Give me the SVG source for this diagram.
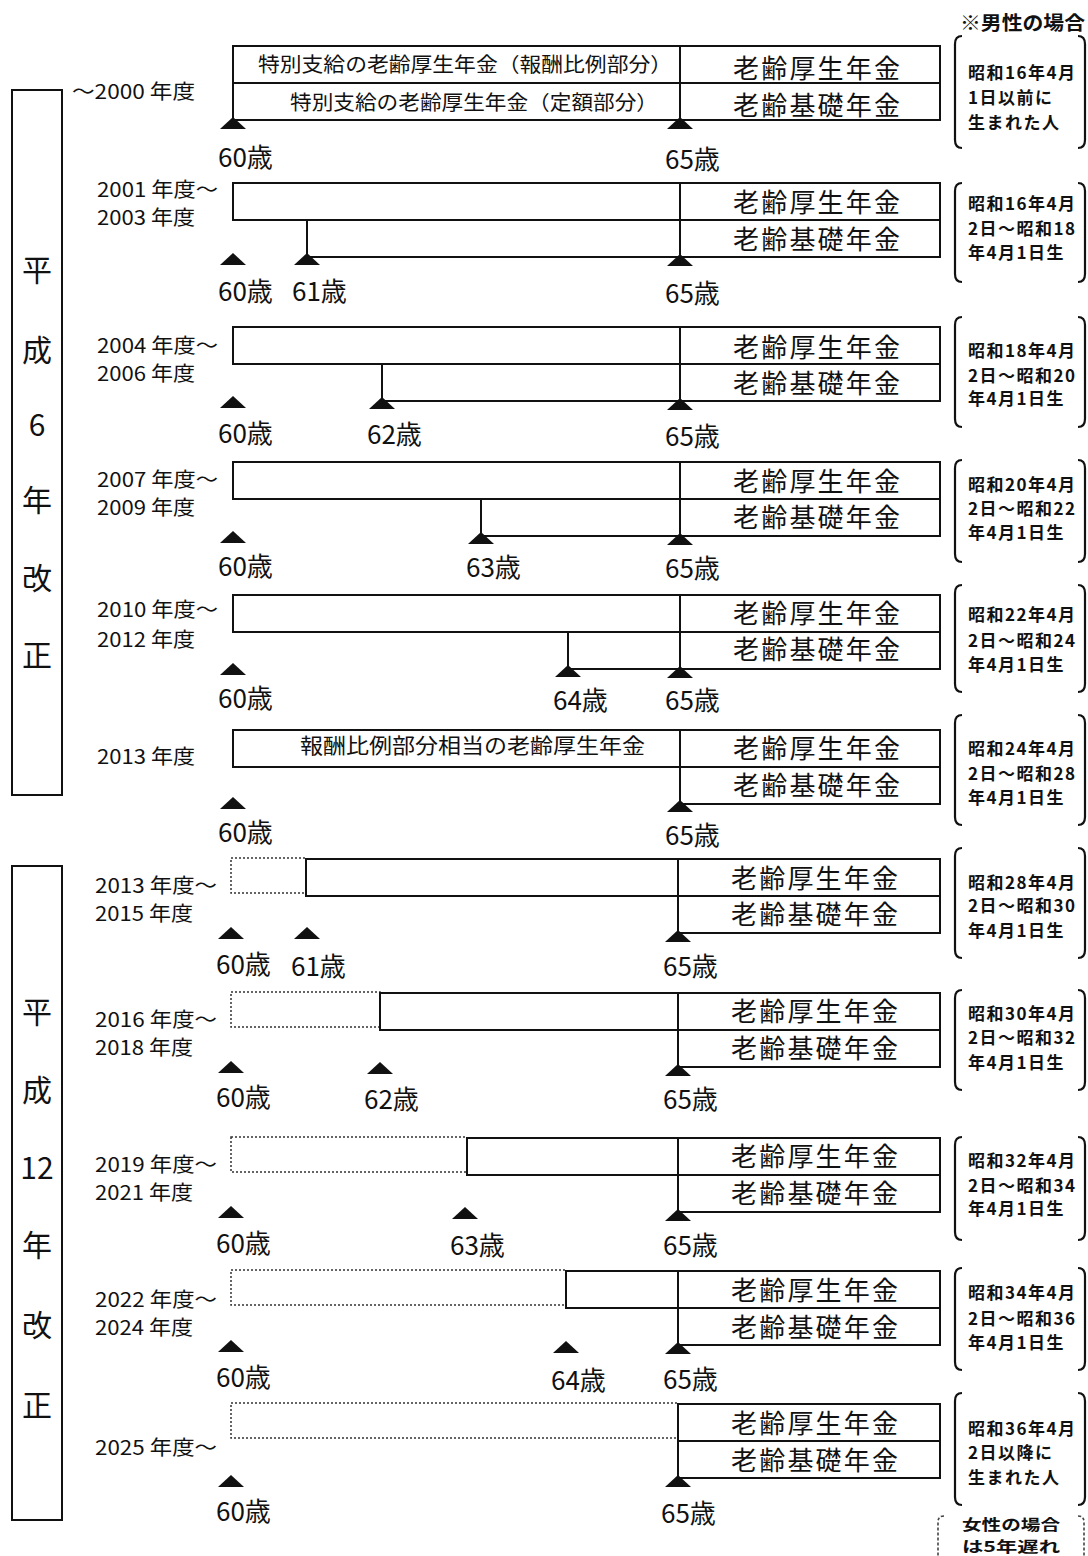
<svg xmlns="http://www.w3.org/2000/svg" xmlns:xlink="http://www.w3.org/1999/xlink" width="1088" height="1556" viewBox="0 0 1088 1556">
<style>
text{font-family:"Noto Sans CJK JP","Noto Sans",sans-serif;fill:#111}
.box{fill:none;stroke:#111;stroke-width:2}
.dot{fill:none;stroke:#333;stroke-width:1.5;stroke-dasharray:2 2}
.ln{fill:none;stroke:#111;stroke-width:2}
.br{fill:none;stroke:#111;stroke-width:2.2}
.brd{fill:none;stroke:#444;stroke-width:1.6;stroke-dasharray:3 2}
.pen{font-size:26px}
.age{font-size:26px}
.yr{font-size:20px}
.nt{font-size:17px;font-weight:bold;letter-spacing:1.5px}
.nt2{font-size:15px;font-weight:bold}
.era{font-size:30px;text-anchor:middle}
</style>
<defs>
<path id="tri" d="M0,0 L13,12 L-13,12 Z" fill="#111"/>
</defs>
<rect width="1088" height="1556" fill="#fff"/>

<g id="era1">
<rect class="box" x="12" y="90" width="50" height="705"/>
<text class="era" x="37" y="281">平</text>
<text class="era" x="37" y="361">成</text>
<text class="era" x="37" y="436">6</text>
<text class="era" x="37" y="511">年</text>
<text class="era" x="37" y="589">改</text>
<text class="era" x="37" y="666">正</text>
</g>
<g id="era2">
<rect class="box" x="12" y="866" width="50" height="654"/>
<text class="era" x="37" y="1023">平</text>
<text class="era" x="37" y="1101">成</text>
<text class="era" x="37" y="1179">12</text>
<text class="era" x="37" y="1256">年</text>
<text class="era" x="37" y="1336">改</text>
<text class="era" x="37" y="1416">正</text>
</g>

<text x="960" y="30" style="font-size:19px;font-weight:bold" textLength="125" lengthAdjust="spacingAndGlyphs">※男性の場合</text>

<g id="connectors">
<rect class="box" x="233" y="46" width="707" height="74"/>
<line class="ln" x1="233" y1="83" x2="940" y2="83"/>
<line class="ln" x1="680" y1="46" x2="680" y2="120"/>
<rect class="box" x="233" y="183" width="707" height="37"/>
<line class="ln" x1="680" y1="183" x2="680" y2="257"/>
<path class="ln" d="M307,220 V257 H940 V220"/>
<rect class="box" x="233" y="327" width="707" height="37"/>
<line class="ln" x1="680" y1="327" x2="680" y2="401"/>
<path class="ln" d="M382,364 V401 H940 V364"/>
<rect class="box" x="233" y="462" width="707" height="37"/>
<line class="ln" x1="680" y1="462" x2="680" y2="536"/>
<path class="ln" d="M481,499 V536 H940 V499"/>
<rect class="box" x="233" y="595" width="707" height="37"/>
<line class="ln" x1="680" y1="595" x2="680" y2="669"/>
<path class="ln" d="M568,632 V669 H940 V632"/>
<rect class="box" x="233" y="730" width="707" height="37"/>
<line class="ln" x1="680" y1="730" x2="680" y2="804"/>
<path class="ln" d="M680,804 H940 V767"/>
<rect class="dot" x="231" y="858" width="75" height="35"/>
<rect class="box" x="306" y="859" width="634" height="37"/>
<line class="ln" x1="678" y1="859" x2="678" y2="933"/>
<path class="ln" d="M678,933 H940 V896"/>
<rect class="dot" x="231" y="992" width="149" height="35"/>
<rect class="box" x="380" y="993" width="560" height="37"/>
<line class="ln" x1="678" y1="993" x2="678" y2="1067"/>
<path class="ln" d="M678,1067 H940 V1030"/>
<rect class="dot" x="231" y="1137" width="236" height="35"/>
<rect class="box" x="467" y="1138" width="473" height="37"/>
<line class="ln" x1="678" y1="1138" x2="678" y2="1212"/>
<path class="ln" d="M678,1212 H940 V1175"/>
<rect class="dot" x="231" y="1270" width="335" height="35"/>
<rect class="box" x="566" y="1271" width="374" height="37"/>
<line class="ln" x1="678" y1="1271" x2="678" y2="1345"/>
<path class="ln" d="M678,1345 H940 V1308"/>
<rect class="dot" x="231" y="1403" width="447" height="35"/>
<rect class="box" x="678" y="1404" width="262" height="37"/>
<path class="ln" d="M678,1441 V1478 H940 V1441"/>
</g>

<g id="markers">
<use xlink:href="#tri" x="233" y="117"/><use xlink:href="#tri" x="680" y="117"/>
<use xlink:href="#tri" x="233" y="253"/><use xlink:href="#tri" x="307" y="253"/><use xlink:href="#tri" x="680" y="254"/>
<use xlink:href="#tri" x="233" y="396"/><use xlink:href="#tri" x="382" y="397"/><use xlink:href="#tri" x="680" y="398"/>
<use xlink:href="#tri" x="233" y="531"/><use xlink:href="#tri" x="481" y="532"/><use xlink:href="#tri" x="680" y="533"/>
<use xlink:href="#tri" x="233" y="663"/><use xlink:href="#tri" x="568" y="665"/><use xlink:href="#tri" x="680" y="666"/>
<use xlink:href="#tri" x="233" y="797"/><use xlink:href="#tri" x="680" y="800"/>
<use xlink:href="#tri" x="231" y="927"/><use xlink:href="#tri" x="307" y="927"/><use xlink:href="#tri" x="678" y="930"/>
<use xlink:href="#tri" x="231" y="1061"/><use xlink:href="#tri" x="380" y="1062"/><use xlink:href="#tri" x="678" y="1064"/>
<use xlink:href="#tri" x="231" y="1206"/><use xlink:href="#tri" x="465" y="1207"/><use xlink:href="#tri" x="678" y="1209"/>
<use xlink:href="#tri" x="231" y="1340"/><use xlink:href="#tri" x="566" y="1341"/><use xlink:href="#tri" x="678" y="1342"/>
<use xlink:href="#tri" x="231" y="1475"/><use xlink:href="#tri" x="678" y="1475"/>
</g>

<g id="row1">
<text x="258" y="72" style="font-size:20px" textLength="414" lengthAdjust="spacingAndGlyphs">特別支給の老齢厚生年金（報酬比例部分）</text>
<text x="290" y="110" style="font-size:20px" textLength="368" lengthAdjust="spacingAndGlyphs">特別支給の老齢厚生年金（定額部分）</text>
<text class="pen" x="733" y="78" textLength="167">老齢厚生年金</text>
<text class="pen" x="733" y="115" textLength="167">老齢基礎年金</text>
<text class="yr" x="72" y="99" textLength="123" lengthAdjust="spacingAndGlyphs">～2000 年度</text>
<text class="age" x="218" y="167">60歳</text>
<text class="age" x="665" y="169">65歳</text>
<path class="br" d="M962,36 Q955,36 955,44 V140 Q955,148 962,148"/>
<path class="br" d="M1078,36 Q1085,36 1085,44 V140 Q1085,148 1078,148"/>
<text class="nt" x="968" y="79">昭和16年4月</text>
<text class="nt" x="968" y="104">1日以前に</text>
<text class="nt" x="968" y="129">生まれた人</text>
</g>

<g id="row2">
<text class="pen" x="733" y="212" textLength="167">老齢厚生年金</text>
<text class="pen" x="733" y="249" textLength="167">老齢基礎年金</text>
<text class="yr" x="97" y="197" textLength="121" lengthAdjust="spacingAndGlyphs">2001 年度～</text>
<text class="yr" x="97" y="225" textLength="98" lengthAdjust="spacingAndGlyphs">2003 年度</text>
<text class="age" x="218" y="301">60歳</text>
<text class="age" x="292" y="301">61歳</text>
<text class="age" x="665" y="303">65歳</text>
<path class="br" d="M962,183 Q955,183 955,191 V274 Q955,282 962,282"/>
<path class="br" d="M1078,183 Q1085,183 1085,191 V274 Q1085,282 1078,282"/>
<text class="nt" x="968" y="210">昭和16年4月</text>
<text class="nt" x="968" y="235">2日～昭和18</text>
<text class="nt" x="968" y="259">年4月1日生</text>
</g>

<g id="row3">
<text class="pen" x="733" y="357" textLength="167">老齢厚生年金</text>
<text class="pen" x="733" y="393" textLength="167">老齢基礎年金</text>
<text class="yr" x="97" y="353" textLength="121" lengthAdjust="spacingAndGlyphs">2004 年度～</text>
<text class="yr" x="97" y="381" textLength="98" lengthAdjust="spacingAndGlyphs">2006 年度</text>
<text class="age" x="218" y="443">60歳</text>
<text class="age" x="367" y="444">62歳</text>
<text class="age" x="665" y="446">65歳</text>
<path class="br" d="M962,317 Q955,317 955,325 V419 Q955,427 962,427"/>
<path class="br" d="M1078,317 Q1085,317 1085,325 V419 Q1085,427 1078,427"/>
<text class="nt" x="968" y="357">昭和18年4月</text>
<text class="nt" x="968" y="382">2日～昭和20</text>
<text class="nt" x="968" y="405">年4月1日生</text>
</g>

<g id="row4">
<text class="pen" x="733" y="491" textLength="167">老齢厚生年金</text>
<text class="pen" x="733" y="527" textLength="167">老齢基礎年金</text>
<text class="yr" x="97" y="487" textLength="121" lengthAdjust="spacingAndGlyphs">2007 年度～</text>
<text class="yr" x="97" y="515" textLength="98" lengthAdjust="spacingAndGlyphs">2009 年度</text>
<text class="age" x="218" y="576">60歳</text>
<text class="age" x="466" y="577">63歳</text>
<text class="age" x="665" y="578">65歳</text>
<path class="br" d="M962,460 Q955,460 955,468 V554 Q955,562 962,562"/>
<path class="br" d="M1078,460 Q1085,460 1085,468 V554 Q1085,562 1078,562"/>
<text class="nt" x="968" y="491">昭和20年4月</text>
<text class="nt" x="968" y="515">2日～昭和22</text>
<text class="nt" x="968" y="539">年4月1日生</text>
</g>

<g id="row5">
<text class="pen" x="733" y="623" textLength="167">老齢厚生年金</text>
<text class="pen" x="733" y="659" textLength="167">老齢基礎年金</text>
<text class="yr" x="97" y="617" textLength="121" lengthAdjust="spacingAndGlyphs">2010 年度～</text>
<text class="yr" x="97" y="647" textLength="98" lengthAdjust="spacingAndGlyphs">2012 年度</text>
<text class="age" x="218" y="708">60歳</text>
<text class="age" x="553" y="710">64歳</text>
<text class="age" x="665" y="710">65歳</text>
<path class="br" d="M962,585 Q955,585 955,593 V684 Q955,692 962,692"/>
<path class="br" d="M1078,585 Q1085,585 1085,593 V684 Q1085,692 1078,692"/>
<text class="nt" x="968" y="621">昭和22年4月</text>
<text class="nt" x="968" y="647">2日～昭和24</text>
<text class="nt" x="968" y="671">年4月1日生</text>
</g>

<g id="row6">
<text x="300" y="753" style="font-size:21px" textLength="345" lengthAdjust="spacingAndGlyphs">報酬比例部分相当の老齢厚生年金</text>
<text class="pen" x="733" y="758" textLength="167">老齢厚生年金</text>
<text class="pen" x="733" y="795" textLength="167">老齢基礎年金</text>
<text class="yr" x="97" y="764" textLength="98" lengthAdjust="spacingAndGlyphs">2013 年度</text>
<text class="age" x="218" y="842">60歳</text>
<text class="age" x="665" y="845">65歳</text>
<path class="br" d="M962,715 Q955,715 955,723 V817 Q955,825 962,825"/>
<path class="br" d="M1078,715 Q1085,715 1085,723 V817 Q1085,825 1078,825"/>
<text class="nt" x="968" y="755">昭和24年4月</text>
<text class="nt" x="968" y="780">2日～昭和28</text>
<text class="nt" x="968" y="804">年4月1日生</text>
</g>

<g id="row7">
<text class="pen" x="731" y="888" textLength="167">老齢厚生年金</text>
<text class="pen" x="731" y="924" textLength="167">老齢基礎年金</text>
<text class="yr" x="95" y="893" textLength="122" lengthAdjust="spacingAndGlyphs">2013 年度～</text>
<text class="yr" x="95" y="921" textLength="98" lengthAdjust="spacingAndGlyphs">2015 年度</text>
<text class="age" x="216" y="974">60歳</text>
<text class="age" x="291" y="976">61歳</text>
<text class="age" x="663" y="976">65歳</text>
<path class="br" d="M962,848 Q955,848 955,856 V950 Q955,958 962,958"/>
<path class="br" d="M1078,848 Q1085,848 1085,856 V950 Q1085,958 1078,958"/>
<text class="nt" x="968" y="889">昭和28年4月</text>
<text class="nt" x="968" y="912">2日～昭和30</text>
<text class="nt" x="968" y="937">年4月1日生</text>
</g>

<g id="row8">
<text class="pen" x="731" y="1021" textLength="167">老齢厚生年金</text>
<text class="pen" x="731" y="1058" textLength="167">老齢基礎年金</text>
<text class="yr" x="95" y="1027" textLength="122" lengthAdjust="spacingAndGlyphs">2016 年度～</text>
<text class="yr" x="95" y="1055" textLength="98" lengthAdjust="spacingAndGlyphs">2018 年度</text>
<text class="age" x="216" y="1107">60歳</text>
<text class="age" x="364" y="1109">62歳</text>
<text class="age" x="663" y="1109">65歳</text>
<path class="br" d="M962,990 Q955,990 955,998 V1082 Q955,1090 962,1090"/>
<path class="br" d="M1078,990 Q1085,990 1085,998 V1082 Q1085,1090 1078,1090"/>
<text class="nt" x="968" y="1020">昭和30年4月</text>
<text class="nt" x="968" y="1044">2日～昭和32</text>
<text class="nt" x="968" y="1069">年4月1日生</text>
</g>

<g id="row9">
<text class="pen" x="731" y="1166" textLength="167">老齢厚生年金</text>
<text class="pen" x="731" y="1203" textLength="167">老齢基礎年金</text>
<text class="yr" x="95" y="1172" textLength="122" lengthAdjust="spacingAndGlyphs">2019 年度～</text>
<text class="yr" x="95" y="1200" textLength="98" lengthAdjust="spacingAndGlyphs">2021 年度</text>
<text class="age" x="216" y="1253">60歳</text>
<text class="age" x="450" y="1255">63歳</text>
<text class="age" x="663" y="1255">65歳</text>
<path class="br" d="M962,1137 Q955,1137 955,1145 V1232 Q955,1240 962,1240"/>
<path class="br" d="M1078,1137 Q1085,1137 1085,1145 V1232 Q1085,1240 1078,1240"/>
<text class="nt" x="968" y="1167">昭和32年4月</text>
<text class="nt" x="968" y="1192">2日～昭和34</text>
<text class="nt" x="968" y="1215">年4月1日生</text>
</g>

<g id="row10">
<text class="pen" x="731" y="1300" textLength="167">老齢厚生年金</text>
<text class="pen" x="731" y="1337" textLength="167">老齢基礎年金</text>
<text class="yr" x="95" y="1307" textLength="122" lengthAdjust="spacingAndGlyphs">2022 年度～</text>
<text class="yr" x="95" y="1335" textLength="98" lengthAdjust="spacingAndGlyphs">2024 年度</text>
<text class="age" x="216" y="1387">60歳</text>
<text class="age" x="551" y="1390">64歳</text>
<text class="age" x="663" y="1389">65歳</text>
<path class="br" d="M962,1268 Q955,1268 955,1276 V1362 Q955,1370 962,1370"/>
<path class="br" d="M1078,1268 Q1085,1268 1085,1276 V1362 Q1085,1370 1078,1370"/>
<text class="nt" x="968" y="1299">昭和34年4月</text>
<text class="nt" x="968" y="1325">2日～昭和36</text>
<text class="nt" x="968" y="1349">年4月1日生</text>
</g>

<g id="row11">
<text class="pen" x="731" y="1433" textLength="167">老齢厚生年金</text>
<text class="pen" x="731" y="1470" textLength="167">老齢基礎年金</text>
<text class="yr" x="95" y="1455" textLength="122" lengthAdjust="spacingAndGlyphs">2025 年度～</text>
<text class="age" x="216" y="1521">60歳</text>
<text class="age" x="661" y="1523">65歳</text>
<path class="br" d="M962,1393 Q955,1393 955,1401 V1497 Q955,1505 962,1505"/>
<path class="br" d="M1078,1393 Q1085,1393 1085,1401 V1497 Q1085,1505 1078,1505"/>
<text class="nt" x="968" y="1435">昭和36年4月</text>
<text class="nt" x="968" y="1459">2日以降に</text>
<text class="nt" x="968" y="1484">生まれた人</text>
</g>

<g id="note">
<path class="brd" d="M944,1516 Q938,1516 938,1522 V1556"/>
<path class="brd" d="M1078,1516 Q1084,1516 1084,1522 V1556"/>
<text class="nt2" x="962" y="1530" textLength="98" lengthAdjust="spacingAndGlyphs">女性の場合</text>
<text class="nt2" x="962" y="1552" textLength="98" lengthAdjust="spacingAndGlyphs">は5年遅れ</text>
</g>
</svg>
